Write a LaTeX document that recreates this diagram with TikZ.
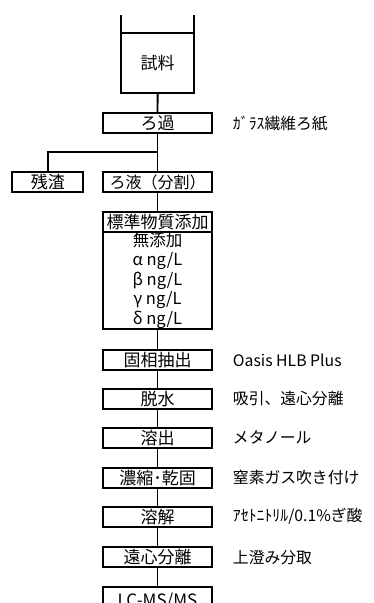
\documentclass[tikz,border=0pt]{standalone}
\usepackage{fontspec}
\setmainfont{Noto Sans CJK JP}
\begin{document}
\begin{tikzpicture}[x=1pt,y=-1pt,line width=1.9pt,
  box/.style={draw,minimum width=109pt,minimum height=20pt,inner sep=0pt,outer sep=0pt,font=\fontsize{17}{18}\selectfont},
  lbl/.style={anchor=west,inner sep=0pt,font=\fontsize{15.8}{18}\selectfont}]
\useasboundingbox (0,0) rectangle (373,603);
% sample container
\node[box,minimum width=73.5pt,minimum height=60pt] (sample) at (157.6,63) {試料};
\coordinate (tl) at (120.85,15);
\coordinate (tr) at (194.35,15);
\draw (sample.north west) -- (tl);
\draw (sample.north east) -- (tr);
% steps
\node[box] (filt) at (157.5,122.7) {ろ過};
\node[box,minimum width=71pt] (res) at (47.8,182) {残渣};
\node[box,font=\fontsize{16}{18}\selectfont] (filtrate) at (157.5,182) {ろ液（分割）};
\node[box] (std) at (157.5,221.7) {標準物質添加};
\node[box,minimum height=97.6pt,align=center,font=\fontsize{16.5}{19.6}\selectfont] (lev) at (157.5,280.5)
  {無添加\\α ng/L\\β ng/L\\γ ng/L\\δ ng/L};
\node[box] (spe) at (157.5,359.7) {固相抽出};
\node[box] (dehyd) at (157.5,398.8) {脱水};
\node[box] (elute) at (157.5,437.8) {溶出};
\node[box] (conc) at (157.5,477.8) {濃縮･乾固};
\node[box] (diss) at (157.5,516.7) {溶解};
\node[box] (cent) at (157.5,557.3) {遠心分離};
\node[box,minimum height=30pt,anchor=north] (lcms) at (157.5,586.7) {LC-MS/MS};
% labels
\node[lbl] (l1) at (232,124) {ｶﾞﾗｽ繊維ろ紙};
\node[lbl] (l2) at (232,360.5) {Oasis HLB Plus};
\node[lbl] (l3) at (232,398.8) {吸引、遠心分離};
\node[lbl] (l4) at (232,437.8) {メタノール};
\node[lbl] (l5) at (232,477.8) {窒素ガス吹き付け};
\node[lbl] (l6) at (232,516.7) {ｱｾﾄﾆﾄﾘﾙ/0.1\%ぎ酸};
\node[lbl] (l7) at (232,557.3) {上澄み分取};
% connectors
\coordinate (br) at (157.5,152.3);
\draw (sample.south) -- (filt.north);
\draw (filt.south) -- (filtrate.north);
\draw (br) -| (res.north);
\draw (filtrate.south) -- (std.north);
\draw (lev.south) -- (spe.north);
\draw (spe.south) -- (dehyd.north);
\draw (dehyd.south) -- (elute.north);
\draw (elute.south) -- (conc.north);
\draw (conc.south) -- (diss.north);
\draw (diss.south) -- (cent.north);
\draw (cent.south) -- (lcms.north);
\end{tikzpicture}
\end{document}
